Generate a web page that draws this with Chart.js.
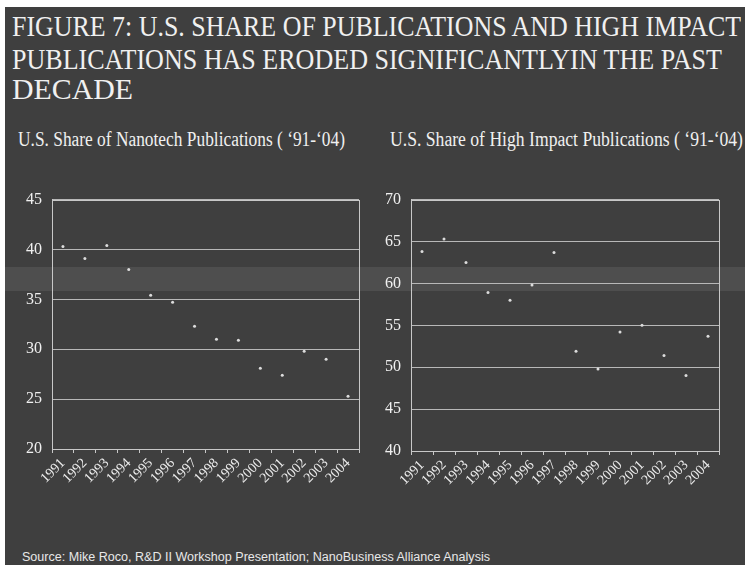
<!DOCTYPE html>
<html>
<head>
<meta charset="utf-8">
<script src="https://cdn.jsdelivr.net/npm/chart.js@4"></script>
<style>
  html, body { margin: 0; padding: 0; }
  body { width: 745px; height: 565px; background: #ffffff; position: relative; overflow: hidden; }
  #slide { position: absolute; left: 5px; top: 7px; right: 0; bottom: 0; background: #3f3f3f; }
  #band { position: absolute; left: 5px; right: 0; top: 267px; height: 24px; background: rgba(160,160,160,0.16); }
  .txt { position: absolute; white-space: nowrap; color: #f0f0f0; transform-origin: 0 0; line-height: 1; }
  .title { font-family: "Liberation Serif", serif; font-size: 30px; }
  .sub { font-family: "Liberation Serif", serif; font-size: 20px; }
  .src { font-family: "Liberation Sans", sans-serif; font-size: 12px; color: #e8e8e8; }
  canvas { position: absolute; }
</style>
</head>
<body>
<div id="slide"></div>
<div id="band"></div>
<div class="txt title" data-x="12" data-w="729" style="top:11px">FIGURE 7: U.S. SHARE OF PUBLICATIONS AND HIGH IMPACT</div>
<div class="txt title" data-x="12" data-w="710" style="top:44px">PUBLICATIONS HAS ERODED SIGNIFICANTLYIN THE PAST</div>
<div class="txt title" data-x="12" data-w="121" style="top:74px">DECADE</div>
<div class="txt sub" data-x="18" data-w="327" style="top:129px">U.S. Share of Nanotech Publications ( ‘91-‘04)</div>
<div class="txt sub" data-x="390" data-w="353" style="top:129px">U.S. Share of High Impact Publications ( ‘91-‘04)</div>
<div class="txt src" data-x="22" data-w="468" style="top:551px">Source: Mike Roco, R&amp;D II Workshop Presentation; NanoBusiness Alliance Analysis</div>
<canvas id="leftChart" style="left:0px; top:180px; width:370px; height:320px" width="370" height="320"></canvas>
<canvas id="rightChart" style="left:370px; top:180px; width:375px; height:320px" width="375" height="320"></canvas>
<script>
const YEARS = ['1991', '1992', '1993', '1994', '1995', '1996', '1997',
    '1998', '1999', '2000', '2001', '2002', '2003', '2004'];
const NANOTECH_SHARE = [40.3, 39.1, 40.4, 38.0, 35.4, 34.7, 32.3,
    31.0, 30.9, 28.1, 27.4, 29.8, 29.0, 25.3];
const HIGH_IMPACT_SHARE = [63.8, 65.3, 62.5, 58.9, 58.0, 59.8, 63.7,
    51.9, 49.8, 54.2, 55.0, 51.4, 49.0, 53.7];
const LEFT_TICKS = [20, 25, 30, 35, 40, 45];
const RIGHT_TICKS = [40, 45, 50, 55, 60, 65, 70];

function fitTexts() {
    document.querySelectorAll('.txt').forEach((el) => {
        const w = el.getBoundingClientRect().width;
        const target = parseFloat(el.dataset.w);
        el.style.left = el.dataset.x + 'px';
        el.style.transform = 'scaleX(' + (target / w) + ')';
    });
}

const boxPlugin = {
    id: 'box',
    afterDraw(chart) {
        const a = chart.chartArea;
        const ctx = chart.ctx;
        ctx.save();
        ctx.strokeStyle = '#c8c8c8';
        ctx.lineWidth = 1;
        ctx.strokeRect(Math.round(a.left) + 0.5, Math.round(a.top) + 0.5,
            Math.round(a.right - a.left), Math.round(a.bottom - a.top));
        ctx.restore();
    }
};

function createChart(id, data, ticks, yWidth, xHeight, padTop, padRight) {
    const CTX = document.getElementById(id).getContext('2d');
    return new Chart(CTX, {
        type: 'line',
        data: {
            labels: YEARS,
            datasets: [{
                data: data,
                showLine: false,
                pointRadius: 1.5,
                pointBackgroundColor: '#dcdcdc',
                pointBorderWidth: 0
            }]
        },
        plugins: [boxPlugin],
        options: {
            responsive: false,
            animation: false,
            layout: { padding: { top: padTop, right: padRight, left: 0, bottom: 0 } },
            plugins: { legend: { display: false }, tooltip: { enabled: false } },
            scales: {
                x: {
                    offset: true,
                    grid: { offset: true, drawOnChartArea: false, drawTicks: true, tickLength: 4, color: '#c8c8c8' },
                    border: { color: '#c8c8c8' },
                    ticks: {
                        color: '#ececec',
                        font: { family: 'Liberation Serif', size: 14 },
                        minRotation: 45, maxRotation: 45, autoSkip: false, padding: 2
                    },
                    afterFit(scale) { scale.height = xHeight; }
                },
                y: {
                    min: ticks[0],
                    max: ticks[ticks.length - 1],
                    afterBuildTicks(scale) { scale.ticks = ticks.map((v) => ({ value: v })); },
                    grid: { color: '#b8b8b8', drawTicks: false },
                    border: { color: '#c8c8c8' },
                    ticks: {
                        color: '#f0f0f0',
                        font: { family: 'Liberation Serif', size: 16 },
                        padding: 10
                    },
                    afterFit(scale) { scale.width = yWidth; }
                }
            }
        }
    });
}

fitTexts();
createChart('leftChart', NANOTECH_SHARE, LEFT_TICKS, 52, 51, 11, 11);
createChart('rightChart', HIGH_IMPACT_SHARE, RIGHT_TICKS, 41, 49, 13, 26);
</script>
</body>
</html>
